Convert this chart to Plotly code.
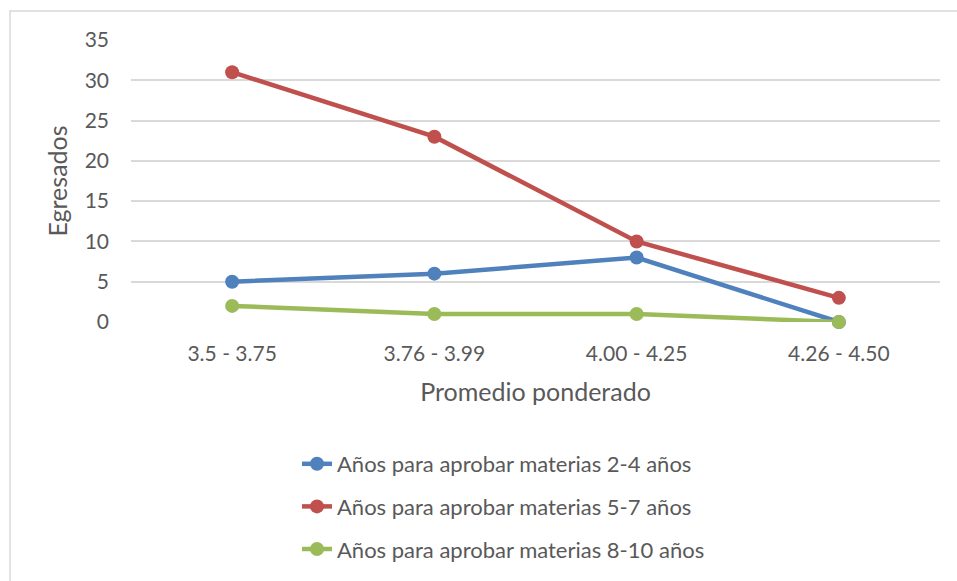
import plotly.graph_objects as go

# Weighted average ranges (x categories)
rangos = ["3.5 - 3.75", "3.76 - 3.99", "4.00 - 4.25", "4.26 - 4.50"]

# Graduates per range, by years taken to pass subjects
anos_2_4 = [5, 6, 8, 0]
anos_5_7 = [31, 23, 10, 3]
anos_8_10 = [2, 1, 1, 0]

series = [
    ("Años para aprobar materias 2-4 años", anos_2_4, "#4F81BD"),
    ("Años para aprobar materias 5-7 años", anos_5_7, "#C0504D"),
    ("Años para aprobar materias 8-10 años", anos_8_10, "#9BBB59"),
]

FONT = "Lato, Carlito, Calibri, sans-serif"
TXT = "#595959"

fig = go.Figure()
for i, (name, vals, color) in enumerate(series):
    fig.add_trace(go.Scatter(
        x=rangos, y=vals, name=name, mode="lines+markers",
        line=dict(color=color, width=4.5),
        marker=dict(color=color, size=14),
        cliponaxis=False,
        legendgroup=f"g{i}",
    ))

W, H = 957, 581
ml, mr, mt, mb = 131, 17, 40, 259
pw, ph = W - ml - mr, H - mt - mb

fig.update_layout(
    width=W, height=H,
    margin=dict(l=ml, r=mr, t=mt, b=mb, autoexpand=False),
    paper_bgcolor="white", plot_bgcolor="white",
    font=dict(family=FONT, color=TXT, size=21),
    showlegend=True,
    legend=dict(
        x=(297 - ml) / pw, xanchor="left",
        y=(mt + ph - 443) / ph, yanchor="top",
        font=dict(size=22, color=TXT),
        tracegroupgap=11,
        bgcolor="rgba(0,0,0,0)",
    ),
    xaxis=dict(
        type="category", range=[-0.5, 3.5],
        showgrid=False, showline=False, zeroline=False,
        ticks="", ticklabelstandoff=17,
        tickfont=dict(size=21, color=TXT),
        title=dict(text="Promedio ponderado", font=dict(size=25, color=TXT), standoff=19),
    ),
    yaxis=dict(
        range=[0, 35], dtick=5, tick0=0,
        showgrid=True, gridcolor="#D9D9D9", gridwidth=1.5,
        zeroline=False, showline=False, ticks="",
        ticklabelstandoff=21,
        tickfont=dict(size=21, color=TXT),
        title=dict(text="Egresados", font=dict(size=25, color=TXT), standoff=9),
    ),
    shapes=[dict(
        type="rect", xref="paper", yref="paper",
        x0=(10 - ml) / pw, x1=(W + 20 - ml) / pw,
        y0=(mt + ph - (H + 20)) / ph, y1=(mt + ph - 11) / ph,
        line=dict(color="#D9D9D9", width=1.5), fillcolor="rgba(0,0,0,0)",
        layer="below",
    )],
)

fig.write_html("out.html")
